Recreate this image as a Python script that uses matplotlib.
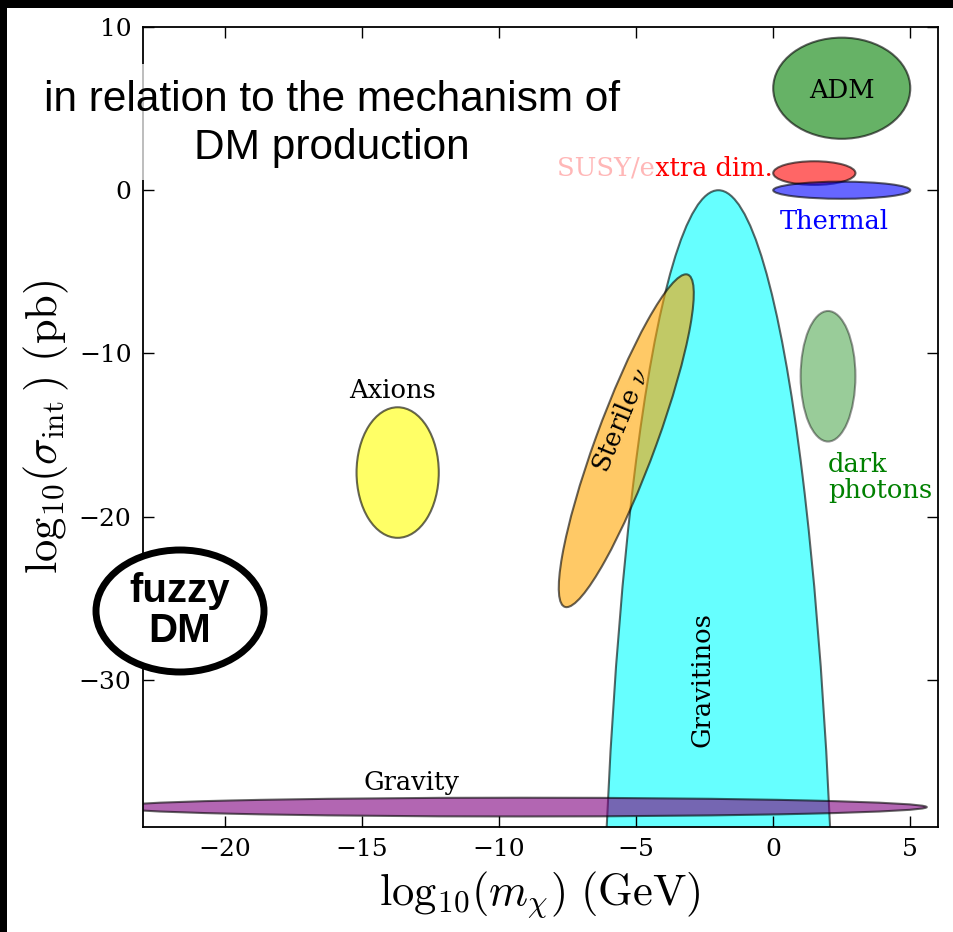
import matplotlib
matplotlib.use('Agg')
import matplotlib.pyplot as plt
from matplotlib.patches import Ellipse, Rectangle

plt.rcParams['font.family'] = 'DejaVu Serif'
plt.rcParams['mathtext.fontset'] = 'cm'

# regions in the (log10 m, log10 sigma) plane, drawn in this order
names = ['Gravitinos', 'Gravity', 'Sterile', 'Axions', 'dark photons', 'SUSY', 'Thermal', 'ADM']
cx = [-2.0, -9.25, -5.36, -13.7, 2.0, 1.5, 2.5, 2.5]
cy = [-60.0, -37.8, -15.35, -17.3, -11.4, 1.05, 0.0, 6.25]
widths = [8.7, 29.7, 20.86, 3.0, 2.0, 3.0, 5.0, 5.0]
heights = [120.0, 1.15, 2.25, 8.0, 8.0, 1.45, 1.05, 6.2]
angles = [0, 0, 77.8, 0, 0, 0, 0, 0]
colors = ['cyan', 'purple', 'orange', 'yellow', 'green', 'red', 'blue', 'green']
alphas = [0.6, 0.6, 0.6, 0.6, 0.4, 0.6, 0.6, 0.6]

# labels
lab_text = ['Gravitinos', 'Gravity', r'Sterile $\nu$', 'Axions', 'dark\nphotons',
            'SUSY/extra dim.', 'Thermal', 'ADM']
lab_x = [-2.6, -13.2, -5.55, -13.9, 2.0, 0.0, 0.25, 2.5]
lab_y = [-30.0, -36.3, -14.1, -12.3, -17.6, 1.35, -1.9, 6.1]
lab_rot = [90, 0, 67.6, 0, 0, 0, 0, 0]
lab_ha = ['center', 'center', 'center', 'center', 'left', 'right', 'left', 'center']
lab_color = ['k', 'k', 'k', 'k', 'green', 'red', 'blue', 'k']

xticks = [-20, -15, -10, -5, 0, 5]
yticks = [10, 0, -10, -20, -30]

fig = plt.figure(figsize=(9.54, 9.32), dpi=100)
ax = fig.add_axes([0.1496, 0.1130, 0.8333, 0.8580])

for i in range(len(names)):
    e = Ellipse((cx[i], cy[i]), widths[i], heights[i], angle=angles[i],
                facecolor=colors[i], edgecolor='k', alpha=alphas[i], lw=1.5)
    ax.add_patch(e)

for i in range(len(lab_text)):
    ax.text(lab_x[i], lab_y[i], lab_text[i], rotation=lab_rot[i], ha=lab_ha[i],
            va='center', color=lab_color[i], fontsize=18.5, linespacing=1.05,
            rotation_mode='anchor' if lab_rot[i] else 'default')

ax.set_xlim(-23, 6)
ax.set_ylim(-39, 10)
ax.set_xticks(xticks)
ax.set_yticks(yticks)
ax.tick_params(direction='in', top=True, right=True, length=8, width=1,
               labelsize=18, pad=8)
for s in ax.spines.values():
    s.set_linewidth(1.3)
ax.set_xlabel(r'$\mathrm{log}_{10}(m_\chi)\ \mathrm{(GeV)}$', fontsize=32, labelpad=6)
ax.set_ylabel(r'$\mathrm{log}_{10}(\sigma_{\rm int}\,)\ \mathrm{(pb)}$', fontsize=32, labelpad=6)

# overlay: faded box with title text
fig.patches.append(Rectangle((15 / 954, 1 - 180 / 932), (656 - 15) / 954, 116 / 932,
                             transform=fig.transFigure, facecolor='white',
                             edgecolor='none', alpha=0.72, zorder=2))
fig.text(332 / 954, 1 - 124 / 932, 'in relation to the mechanism of\nDM production',
         family='Liberation Sans', fontsize=30.5, ha='center', va='center',
         linespacing=1.25, zorder=3)

# fuzzy DM badge
fig.patches.append(Ellipse((180 / 954, 1 - 611 / 932), 168 / 954, 122 / 932,
                           transform=fig.transFigure, facecolor='white',
                           edgecolor='black', lw=5, zorder=2))
fig.text(180 / 954, 1 - 611 / 932, 'fuzzy\nDM', family='Liberation Sans',
         weight='bold', fontsize=29, ha='center', va='center', linespacing=1.05, zorder=3)

# black frame strips at top and left
fig.patches.append(Rectangle((0, 1 - 8 / 932), 1, 8 / 932, transform=fig.transFigure,
                             facecolor='black', edgecolor='none', zorder=4))
fig.patches.append(Rectangle((0, 0), 7 / 954, 1, transform=fig.transFigure,
                             facecolor='black', edgecolor='none', zorder=4))

fig.savefig('out.png', dpi=100)
